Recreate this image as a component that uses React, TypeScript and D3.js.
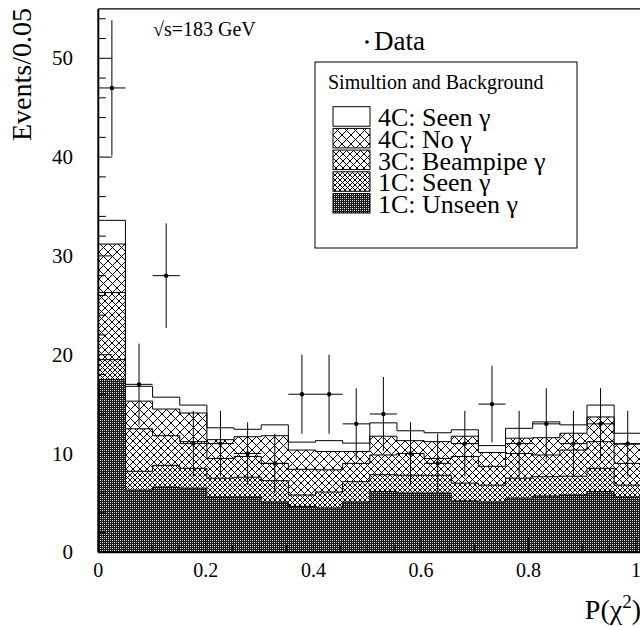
import React from 'react';
import * as d3 from 'd3';

// Histogram binning in P(chi^2): 20 bins of width 0.05
const binEdges: number[] = d3.range(21).map((i) => +(i * 0.05).toFixed(2));

// Observed events per bin
const dataCounts = [47, 17, 28, 11, 11, 10, 9, 16, 16, 13, 14, 10, 9, 11, 15, 11, 13, 11, 13, 11];

// Simulated contributions per bin (stacked bottom to top)
const unseen1C = [17.5, 6.3, 6.6, 6.5, 5.6, 5.6, 5.1, 4.65, 4.5, 5.1, 6.15, 6.0, 6.0, 5.2, 5.1, 5.5, 5.7, 5.8, 6.15, 5.6];
const seen1C = [2.0, 1.9, 2.2, 2.0, 1.9, 2.0, 2.15, 1.15, 1.6, 2.05, 1.7, 1.8, 1.8, 1.8, 1.7, 2.0, 1.95, 1.9, 2.35, 1.2];
const beampipe3C = [6.8, 4.3, 3.0, 2.7, 2.0, 2.1, 1.75, 2.6, 2.25, 1.85, 2.0, 2.2, 1.7, 2.7, 1.9, 2.5, 2.2, 2.65, 2.7, 2.2];
const noGamma4C = [4.9, 2.8, 2.7, 2.9, 1.9, 2.0, 2.8, 1.95, 1.85, 1.2, 1.9, 1.3, 1.7, 2.05, 1.4, 1.55, 1.75, 1.7, 2.5, 1.95];
const seenGamma4C = [2.4, 1.5, 1.2, 0.8, 1.2, 0.75, 1.1, 0.8, 1.1, 0.85, 1.35, 1.0, 0.9, 0.65, 0.7, 1.0, 1.6, 0.85, 1.2, 1.1];

const layerKeys = ['unseen1C', 'seen1C', 'beampipe3C', 'noGamma4C', 'seenGamma4C'];
const layerValues: Record<string, number[]> = { unseen1C, seen1C, beampipe3C, noGamma4C, seenGamma4C };

// Legend entries, top to bottom
const legendLabels = ['4C: Seen γ', '4C: No γ', '3C: Beampipe γ', '1C: Seen γ', '1C: Unseen γ'];
const legendKeys = ['seenGamma4C', 'noGamma4C', 'beampipe3C', 'seen1C', 'unseen1C'];

const yMajorTicks = [0, 10, 20, 30, 40, 50];
const yMinorTicks = d3.range(0, 55, 2);
const xMajorTicks = [0, 0.2, 0.4, 0.6, 0.8, 1];
const xMinorTicks = d3.range(0, 1.0001, 0.05);

const FONT = '"Liberation Serif", "DejaVu Serif", serif';

const fillFor: Record<string, string> = {
  seenGamma4C: '#ffffff',
  noGamma4C: 'url(#hatchLarge)',
  beampipe3C: 'url(#hatchMedium)',
  seen1C: 'url(#hatchFine)',
  unseen1C: 'url(#dots)',
};

function Hatch({ id, size }: { id: string; size: number }) {
  return (
    <pattern id={id} patternUnits="userSpaceOnUse" width={size} height={size}>
      <rect width={size} height={size} fill="#fff" />
      <path
        d={`M0,0L${size},${size}M${size},0L0,${size}`}
        stroke="#000"
        strokeWidth={1}
        shapeRendering="crispEdges"
      />
    </pattern>
  );
}

export default function App() {
  const width = 640;
  const height = 626;

  const xAxis = d3.scaleLinear().domain([0, 1]).range([98.3, 636]);
  const xBin = d3.scaleLinear().domain([0, 1]).range([98.3, 641.3]);
  const y = d3.scaleLinear().domain([0, 55]).range([552.3, 8.9]);

  const rows = binEdges.slice(0, 20).map((_, i) => {
    const r: Record<string, number> = {};
    layerKeys.forEach((k) => (r[k] = layerValues[k][i]));
    return r;
  });
  const series = d3.stack<Record<string, number>>().keys(layerKeys)(rows);

  const idx = d3.range(21);
  const at = (s: d3.Series<Record<string, number>, string>, j: number) => s[Math.min(j, 19)];

  const bandPath = (s: d3.Series<Record<string, number>, string>) =>
    d3
      .area<number>()
      .x((j) => xBin(binEdges[j]))
      .y0((j) => y(at(s, j)[0]))
      .y1((j) => y(at(s, j)[1]))
      .curve(d3.curveStepAfter)(idx) as string;

  const topPath = (s: d3.Series<Record<string, number>, string>) =>
    d3
      .line<number>()
      .x((j) => xBin(binEdges[j]))
      .y((j) => y(at(s, j)[1]))
      .curve(d3.curveStepAfter)(idx) as string;

  const legendX = 315;
  const legendY = 62;
  const legendW = 262;
  const legendH = 186;
  const rowPitch = 21.7;

  return (
    <svg
      width={width}
      height={height}
      style={{ position: 'absolute', left: 0, top: 0, background: '#fff' }}
      fontFamily={FONT}
    >
      <defs>
        <Hatch id="hatchLarge" size={9} />
        <Hatch id="hatchMedium" size={7} />
        <Hatch id="hatchFine" size={5} />
        <pattern id="dots" patternUnits="userSpaceOnUse" width={4} height={4}>
          <rect width={4} height={4} fill="#1a1a1a" />
          <rect x={0} y={0} width={1} height={1} fill="#fff" />
          <rect x={2} y={2} width={1} height={1} fill="#fff" />
          <rect x={0} y={2} width={1} height={1} fill="#aaa" />
          <rect x={2} y={0} width={1} height={1} fill="#aaa" />
        </pattern>
        <clipPath id="frameClip">
          <rect x={98.3} y={8.9} width={width} height={552.3 - 8.9} />
        </clipPath>
      </defs>

      <rect width={width} height={height} fill="#fff" />

      {/* stacked simulation */}
      <g clipPath="url(#frameClip)">
        {series.map((s) => (
          <path key={s.key} d={bandPath(s)} fill={fillFor[s.key]} stroke="none" />
        ))}
        {series.map((s) => (
          <path key={'o' + s.key} d={topPath(s)} fill="none" stroke="#000" strokeWidth={1} />
        ))}

        {/* data with Poisson errors */}
        {dataCounts.map((n, i) => {
          const x0 = xBin(binEdges[i]);
          const x1 = xBin(binEdges[i + 1]);
          const cx = (x0 + x1) / 2;
          const e = Math.sqrt(n);
          return (
            <g key={'d' + i}>
              <line x1={cx} x2={cx} y1={y(n - e)} y2={y(n + e)} stroke="#000" strokeWidth={1} />
              <line x1={x0} x2={x1} y1={y(n)} y2={y(n)} stroke="#000" strokeWidth={1} />
              <circle cx={cx} cy={y(n)} r={2.2} fill="#000" />
            </g>
          );
        })}
      </g>

      {/* frame */}
      <line x1={98.3} x2={width} y1={8.9} y2={8.9} stroke="#000" strokeWidth={1.4} />
      <line x1={98.3} x2={98.3} y1={8.9} y2={552.3} stroke="#000" strokeWidth={2} />
      <line x1={98.3} x2={width} y1={552.3} y2={552.3} stroke="#000" strokeWidth={2} />

      {/* y axis ticks */}
      {yMinorTicks.map((t) => (
        <line
          key={'ym' + t}
          x1={98.3}
          x2={98.3 + (t % 10 === 0 ? 14 : 7.5)}
          y1={y(t)}
          y2={y(t)}
          stroke="#000"
          strokeWidth={1}
        />
      ))}
      {yMajorTicks.map((t) => (
        <text key={'yl' + t} x={73} y={y(t) + 7} fontSize={21} textAnchor="end">
          {String(t)}
        </text>
      ))}

      {/* x axis ticks */}
      {xMinorTicks.map((t, i) => (
        <line
          key={'xm' + i}
          x1={xAxis(t)}
          x2={xAxis(t)}
          y1={552.3}
          y2={552.3 - (i % 4 === 0 ? 15 : 7.5)}
          stroke="#000"
          strokeWidth={1}
        />
      ))}
      {xMajorTicks.map((t) => (
        <text key={'xl' + t} x={xAxis(t)} y={577} fontSize={20} textAnchor="middle">
          {String(t)}
        </text>
      ))}

      {/* axis titles */}
      <text x={641} y={619} fontSize={28} textAnchor="end">
        P(χ<tspan dy={-11} fontSize={19}>2</tspan>
        <tspan dy={11}>)</tspan>
      </text>
      <text transform="translate(31,8) rotate(-90)" fontSize={28} textAnchor="end">
        Events/0.05
      </text>

      {/* annotations */}
      <text x={153} y={36} fontSize={20}>
        √s=183 GeV
      </text>
      <circle cx={367} cy={42} r={1.8} fill="#000" />
      <text x={374} y={50} fontSize={27}>
        Data
      </text>

      {/* legend */}
      <rect x={legendX} y={legendY} width={legendW} height={legendH} fill="#fff" stroke="#000" strokeWidth={1} />
      <text x={328} y={89} fontSize={20}>
        Simultion and Background
      </text>
      {legendKeys.map((k, i) => {
        const top = 106.7 + i * rowPitch;
        return (
          <g key={'lg' + k}>
            <rect x={333} y={top} width={37} height={19.5} fill={fillFor[k]} stroke="#000" strokeWidth={1} />
            <text x={378} y={top + 19.5} fontSize={26}>
              {legendLabels[i]}
            </text>
          </g>
        );
      })}
    </svg>
  );
}
